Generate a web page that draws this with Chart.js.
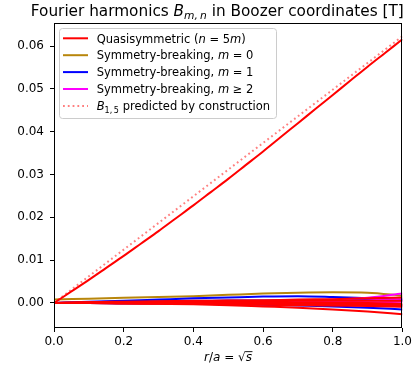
<!DOCTYPE html>
<html><head><meta charset="utf-8">
<script src="https://cdn.jsdelivr.net/npm/chart.js@4/dist/chart.umd.min.js"></script>
<style>html,body{margin:0;padding:0;background:#fff}canvas{display:block}</style>
</head><body>
<canvas id="c" width="415" height="369"></canvas>
<script>
// ---- data ----
const xMain = [0,0.05,0.1,0.15,0.2,0.25,0.3,0.35,0.4,0.45,0.5,0.55,0.6,0.65,0.7,0.75,0.8,0.85,0.9,0.95,1.0];
const qsB15 = [0,0.0027,0.0054,0.0082,0.0110,0.0139,0.0168,0.0198,0.0228,0.0259,0.0290,0.0322,0.0354,0.0387,0.0420,0.0453,0.0486,0.0519,0.0552,0.0584,0.0616];
const xPred = [0,1.0];
const predB15 = [0,0.0623];
const xFine = [0,0.1,0.2,0.3,0.4,0.5,0.6,0.7,0.8,0.9,1.0];
const qsHigherA = [0,0.0000,-0.0001,-0.0002,-0.0003,-0.0005,-0.0008,-0.0011,-0.0015,-0.0020,-0.0026];
const qsHigherB = [0,0.0001,0.0002,0.0003,0.0004,0.0005,0.0006,0.0008,0.0009,0.0011,0.0013];
const qsHigherC = [0,0.0001,0.0001,0.0001,0.0001,0.0001,0.0000,-0.0001,-0.0002,-0.0003,-0.0004];
const qsHigherD = [0,0.0002,0.0003,0.0004,0.0005,0.0006,0.0006,0.0006,0.0006,0.0005,0.0005];
const qsHigherE = [0,0.0000,0.0000,-0.0001,-0.0001,-0.0002,-0.0002,-0.0003,-0.0005,-0.0007,-0.0009];
const qsHigherF = [0,0.0001,0.0002,0.0002,0.0003,0.0003,0.0003,0.0002,0.0001,0.0000,-0.0002];
const qsHigherG = [0,0.0000,-0.0001,-0.0001,-0.0002,-0.0003,-0.0004,-0.0005,-0.0006,-0.0006,-0.0005];
const breakM0 = [0.0008,0.0010,0.0012,0.0014,0.0016,0.0019,0.0022,0.0024,0.0025,0.0024,0.0017];
const breakM1A = [0,0.0003,0.0005,0.0008,0.0011,0.0013,0.0015,0.0016,0.0014,0.0011,0.0008];
const breakM1B = [0,0.0000,-0.0001,-0.0001,-0.0002,-0.0003,-0.0004,-0.0006,-0.0008,-0.0011,-0.0015];
const breakM1C = [0,0.0002,0.0003,0.0004,0.0005,0.0006,0.0006,0.0007,0.0007,0.0007,0.0006];
const breakM2A = [0,0.0000,0.0001,0.0001,0.0002,0.0003,0.0004,0.0006,0.0008,0.0012,0.0022];
const breakM2B = [0,0.0000,0.0000,0.0000,0.0000,0.0000,0.0000,-0.0001,-0.0002,-0.0004,-0.0008];
const breakM2C = [0,0.0000,0.0001,0.0001,0.0001,0.0002,0.0002,0.0003,0.0004,0.0006,0.0010];
const breakM2D = [0,0.0000,0.0000,0.0000,0.0001,0.0001,0.0002,0.0002,0.0002,0.0002,0.0003];
const yTicks = [0,0.01,0.02,0.03,0.04,0.05,0.06];
const xTicks = [0,0.2,0.4,0.6,0.8,1.0];

const RED='#ff0000', GOLD='#b8860b', BLUE='#0000ff', MAG='#ff00ff';
const pts = (xs, ys) => xs.map((x,i)=>({x:x, y:ys[i]}));
function ds(xs, ys, color, order, extra){
  return Object.assign({data: pts(xs,ys), borderColor: color, backgroundColor: color, borderWidth: 2,
    pointRadius: 0, fill: false, cubicInterpolationMode: 'monotone', order: order}, extra||{});
}
const datasets = [
  ds(xPred, predB15, 'rgba(255,0,0,0.5)', 0, {borderDash:[1.8,3], cubicInterpolationMode:'default', tension:0}),
  ds(xMain, qsB15, RED, 1),
  ds(xFine, qsHigherA, RED, 2), ds(xFine, qsHigherB, RED, 2), ds(xFine, qsHigherC, RED, 2),
  ds(xFine, qsHigherD, RED, 2), ds(xFine, qsHigherE, RED, 2), ds(xFine, qsHigherF, RED, 2), ds(xFine, qsHigherG, RED, 2),
  ds(xFine, breakM2A, MAG, 3), ds(xFine, breakM2B, MAG, 3), ds(xFine, breakM2C, MAG, 3), ds(xFine, breakM2D, MAG, 3),
  ds(xFine, breakM1A, BLUE, 4), ds(xFine, breakM1B, BLUE, 4), ds(xFine, breakM1C, BLUE, 4),
  ds(xFine, breakM0, GOLD, 5)
];

const FONT = '"DejaVu Sans", sans-serif';
function segFont(s, size){ const sz = s.sub ? size*0.7 : size; return (s.i?'italic ':'') + sz + 'px ' + FONT; }
function richWidth(ctx, segs, size){ let w=0; for(const s of segs){ ctx.font=segFont(s,size); w+=ctx.measureText(s.t).width; } return w; }
function drawRich(ctx, segs, x, y, size, align){
  let w = richWidth(ctx, segs, size);
  let cx = align==='center' ? x - w/2 : (align==='right' ? x - w : x);
  ctx.textBaseline='alphabetic'; ctx.textAlign='left';
  for(const s of segs){
    ctx.font = segFont(s,size);
    const dy = s.sub ? size*0.22 : 0;
    ctx.fillText(s.t, cx, y+dy);
    const sw = ctx.measureText(s.t).width;
    if(s.over){ ctx.save(); ctx.lineWidth=0.9; ctx.beginPath(); ctx.moveTo(cx-0.5, y-size*0.78); ctx.lineTo(cx+sw+0.5, y-size*0.78); ctx.strokeStyle=ctx.fillStyle; ctx.stroke(); ctx.restore(); }
    cx += sw;
  }
}

const legendItems = [
  {color:RED, dash:null, segs:[{t:'Quasisymmetric ('},{t:'n',i:1},{t:' = 5'},{t:'m',i:1},{t:')'}]},
  {color:GOLD, dash:null, segs:[{t:'Symmetry-breaking, '},{t:'m',i:1},{t:' = 0'}]},
  {color:BLUE, dash:null, segs:[{t:'Symmetry-breaking, '},{t:'m',i:1},{t:' = 1'}]},
  {color:MAG, dash:null, segs:[{t:'Symmetry-breaking, '},{t:'m',i:1},{t:' \u2265 2'}]},
  {color:'rgba(255,0,0,0.5)', dash:[1.8,3], segs:[{t:'B',i:1},{t:'1,\u20095',sub:1},{t:' predicted by construction'}]}
];

const deco = {
  id:'deco',
  afterDatasetsDraw(chart){
    const ctx = chart.ctx, a = chart.chartArea;
    ctx.save();
    // frame
    ctx.strokeStyle='#000'; ctx.lineWidth=1;
    ctx.strokeRect(Math.round(a.left)+0.5, Math.round(a.top)+0.5, Math.round(a.right-a.left)-1, Math.round(a.bottom-a.top)-1);
    // legend box
    const bx=59.5, by=28.5, bw=217, bh=90, r=3;
    ctx.beginPath();
    ctx.moveTo(bx+r,by); ctx.lineTo(bx+bw-r,by); ctx.arcTo(bx+bw,by,bx+bw,by+r,r);
    ctx.lineTo(bx+bw,by+bh-r); ctx.arcTo(bx+bw,by+bh,bx+bw-r,by+bh,r);
    ctx.lineTo(bx+r,by+bh); ctx.arcTo(bx,by+bh,bx,by+bh-r,r);
    ctx.lineTo(bx,by+r); ctx.arcTo(bx,by,bx+r,by,r); ctx.closePath();
    ctx.fillStyle='rgba(255,255,255,0.8)'; ctx.fill();
    ctx.strokeStyle='#cccccc'; ctx.lineWidth=1; ctx.stroke();
    const rows=[38.3,55.2,72.1,89,105.9];
    const lw0 = richWidth(ctx, legendItems[4].segs, 12);
    const lSize = 12 * 173.5 / lw0;
    legendItems.forEach((it,k)=>{
      const yy=rows[k];
      ctx.beginPath(); ctx.setLineDash(it.dash||[]); ctx.strokeStyle=it.color; ctx.lineWidth=2;
      ctx.moveTo(63,yy); ctx.lineTo(88,yy); ctx.stroke(); ctx.setLineDash([]);
      ctx.fillStyle='#000';
      drawRich(ctx, it.segs, 96.7, yy+4.2, lSize, 'left');
    });
    // title, sized to span the same width as in the reference
    ctx.fillStyle='#000';
    const tSegs = [{t:'Fourier harmonics '},{t:'B',i:1},{t:'m,\u2009n',i:1,sub:1},{t:' in Boozer coordinates [T]'}];
    const w0 = richWidth(ctx, tSegs, 14.4);
    const tSize = 14.4 * 373 / w0;
    drawRich(ctx, tSegs, 217.3, 15.5, tSize, 'center');
    // x label
    drawRich(ctx, [{t:'r',i:1},{t:'/'},{t:'a',i:1},{t:' = \u221A'},{t:'s',i:1,over:1}], 228, 361, 12, 'center');
    ctx.restore();
  }
};

new Chart(document.getElementById('c'), {
  type:'line',
  data:{datasets:datasets},
  options:{
    responsive:false, animation:false, devicePixelRatio:1,
    layout:{padding:{left:0,right:12,top:23,bottom:0}},
    plugins:{legend:{display:false}, tooltip:{enabled:false}, title:{display:false}},
    scales:{
      x:{type:'linear', min:0, max:1,
        afterBuildTicks(s){ s.ticks = xTicks.map(v=>({value:v})); },
        afterFit(s){ s.height = 41; },
        border:{display:false},
        grid:{drawOnChartArea:false, drawTicks:true, tickLength:4, color:'#000', lineWidth:1},
        ticks:{color:'#000', padding:3, maxRotation:0, autoSkip:false, font:{family:'DejaVu Sans', size:12},
          callback:(v)=>Number(v).toFixed(1)}
      },
      y:{type:'linear', min:-0.00584, max:0.0654,
        afterBuildTicks(s){ s.ticks = yTicks.map(v=>({value:v})); },
        afterFit(s){ s.width = 54; },
        border:{display:false},
        grid:{drawOnChartArea:false, drawTicks:true, tickLength:4, color:'#000', lineWidth:1},
        ticks:{color:'#000', padding:6, autoSkip:false, font:{family:'DejaVu Sans', size:12},
          callback:(v)=>Number(v).toFixed(2)}
      }
    }
  },
  plugins:[deco]
});
</script>
</body></html>
